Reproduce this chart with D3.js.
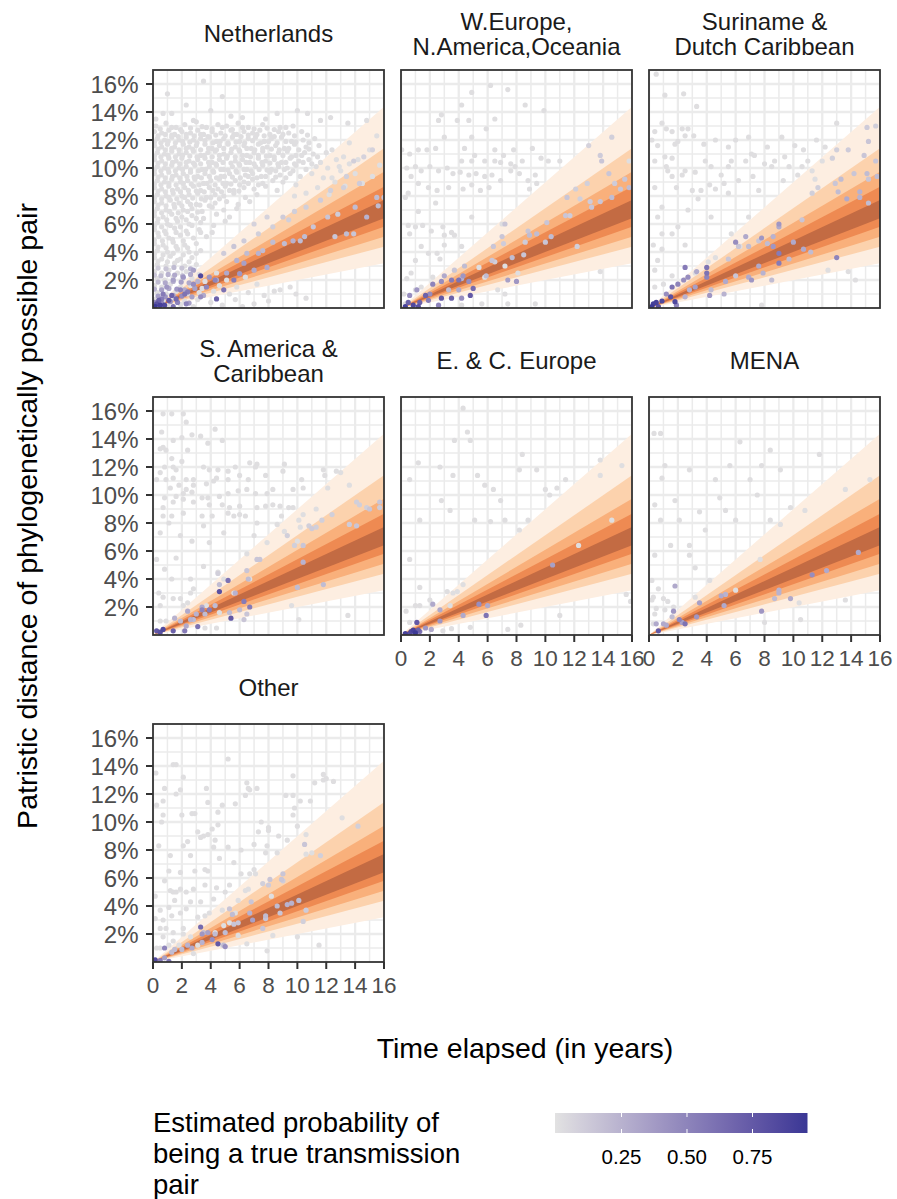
<!DOCTYPE html>
<html><head><meta charset="utf-8">
<script src="https://cdn.jsdelivr.net/npm/d3@7"></script>
<style>body{margin:0;background:#fff}svg{display:block}text{font-family:"Liberation Sans",Arial,Helvetica,sans-serif}</style>
</head><body><svg id="c" width="897" height="1199"></svg>
<script>
// ---------------- data ----------------
const panelTitles = [["Netherlands"],["W.Europe,","N.America,Oceania"],["Suriname &","Dutch Caribbean"],["S. America &","Caribbean"],["E. & C. Europe"],["MENA"],["Other"]];
const xTicks = [0,2,4,6,8,10,12,14,16];
const yTicks = [2,4,6,8,10,12,14,16];
const bandTimes = [0,16];
const bandLower = [3.19,4.38,5.09,5.81,6.41];   // % at t = 16
const bandUpper = [14.38,11.41,9.74,8.66,7.71];
const bandColors = ["#fdeee1","#fcd2ad","#f9b07b","#ee8a52","#c36b43"];
const legendBreaks = [0.25,0.5,0.75];
const probDomain = [0,0.96];
const grayP = 0.02;

const nlGray = [[3.5,16.2],[1.0,15.3],[4.8,15.1],[2.3,14.5],[0.7,13.9],[1.3,13.9],[4.0,14.1],[10.0,14.1],[10.7,13.9],[12.3,13.6],[13.5,13.2],[6.2,13.6],[7.8,13.5],[0.2,13.5],[2.8,13.4],[5.4,13.7],[8.6,13.9],[11.6,13.4],
[0.2,13.0],[0.9,13.2],[1.6,12.9],[2.2,13.1],[3.0,13.3],[3.7,12.9],[4.5,13.1],[5.1,13.0],[5.9,13.2],[6.6,12.9],[7.6,13.1],[8.8,12.9],[9.7,13.0],
[0.1,12.6],[0.6,12.5],[1.1,12.7],[1.5,12.4],[2.0,12.6],[2.6,12.5],[3.1,12.7],[3.5,12.4],[4.1,12.6],[4.7,12.5],[5.4,12.7],[5.8,12.4],[6.3,12.6],[6.9,12.5],[7.4,12.7],[8.1,12.4],[8.7,12.6],[9.4,12.5],[10.3,12.6],
[0.3,12.1],[0.8,12.0],[1.3,12.2],[1.8,12.0],[2.3,12.2],[2.8,12.0],[3.3,12.1],[3.9,12.2],[4.4,11.9],[4.9,12.1],[5.5,12.2],[6.0,11.9],[6.6,12.1],[7.1,12.2],[7.7,11.9],[8.2,12.1],[8.9,12.2],[9.6,11.9],[10.4,12.0],[11.2,12.1],
[0.1,11.6],[0.6,11.5],[1.0,11.7],[1.5,11.5],[2.1,11.7],[2.5,11.5],[3.0,11.6],[3.6,11.7],[4.1,11.4],[4.6,11.6],[5.2,11.7],[5.7,11.5],[6.3,11.6],[6.8,11.4],[7.3,11.7],[7.9,11.5],[8.5,11.6],[9.1,11.4],[9.8,11.7],[10.6,11.5],[11.5,11.6],[12.4,11.3],
[0.3,11.1],[0.8,11.0],[1.3,11.2],[1.8,11.0],[2.3,11.1],[2.8,11.2],[3.3,10.9],[3.8,11.1],[4.3,11.2],[4.9,11.0],[5.4,11.1],[6.0,11.2],[6.5,10.9],[7.0,11.1],[7.6,11.2],[8.1,10.9],[8.7,11.1],[9.3,11.2],[9.9,10.9],[10.5,11.1],[11.1,11.0],[12.0,11.1],[13.2,10.8],
[0.1,10.6],[0.6,10.5],[1.1,10.7],[1.6,10.5],[2.0,10.7],[2.5,10.5],[3.1,10.6],[3.6,10.7],[4.1,10.4],[4.6,10.6],[5.1,10.7],[5.7,10.5],[6.2,10.6],[6.7,10.4],[7.3,10.7],[7.8,10.5],[8.4,10.6],[8.9,10.4],[9.5,10.7],[10.1,10.5],[10.8,10.6],[11.6,10.4],[12.7,10.6],[13.6,10.3],
[0.3,10.1],[0.8,10.0],[1.3,10.2],[1.8,10.0],[2.3,10.1],[2.9,10.2],[3.4,9.9],[3.9,10.1],[4.4,10.2],[4.9,9.9],[5.5,10.1],[6.0,10.2],[6.5,9.9],[7.1,10.1],[7.6,10.2],[8.2,9.9],[8.7,10.1],[9.3,10.0],[9.9,10.2],[10.6,9.9],[11.3,10.1],[12.1,10.0],[13.0,9.8],
[0.1,9.6],[0.6,9.5],[1.1,9.7],[1.6,9.5],[2.1,9.6],[2.6,9.7],[3.1,9.4],[3.6,9.6],[4.2,9.7],[4.7,9.4],[5.3,9.6],[5.8,9.7],[6.4,9.5],[6.9,9.6],[7.5,9.4],[8.1,9.7],[8.8,9.5],[9.5,9.6],[10.2,9.4],[11.0,9.6],[12.4,9.3],
[0.3,9.1],[0.8,9.0],[1.3,9.2],[1.9,9.0],[2.4,9.1],[2.9,9.2],[3.5,8.9],[4.0,9.1],[4.6,9.2],[5.1,8.9],[5.7,9.1],[6.3,9.0],[6.9,9.2],[7.6,8.9],[8.3,9.1],[9.0,9.0],[9.9,8.8],
[0.1,8.6],[0.6,8.5],[1.1,8.7],[1.7,8.5],[2.2,8.6],[2.8,8.7],[3.3,8.4],[3.9,8.6],[4.5,8.5],[5.0,8.7],[5.6,8.4],[6.3,8.6],[7.0,8.5],[7.8,8.7],[8.6,8.4],
[0.3,8.1],[0.9,8.0],[1.4,8.2],[2.0,8.0],[2.5,8.1],[3.1,8.2],[3.7,7.9],[4.3,8.1],[4.9,8.0],[5.6,8.2],[6.4,7.9],[7.2,8.1],
[0.1,7.6],[0.6,7.5],[1.2,7.7],[1.8,7.5],[2.4,7.6],[3.0,7.4],[3.6,7.7],[4.3,7.5],[5.1,7.6],[5.9,7.4],[6.7,7.6],
[0.3,7.1],[0.9,7.0],[1.5,7.2],[2.1,7.0],[2.7,7.1],[3.4,6.9],[4.1,7.2],[4.9,7.0],[5.8,7.1],
[0.1,6.6],[0.7,6.5],[1.3,6.7],[2.0,6.5],[2.7,6.6],[3.5,6.4],[4.4,6.7],[5.3,6.5],
[0.3,6.1],[1.0,6.0],[1.7,6.2],[2.5,6.0],[3.3,6.1],[4.2,5.9],[5.0,6.2],
[0.1,5.6],[0.8,5.5],[1.5,5.7],[2.3,5.5],[3.2,5.6],[4.1,5.4],
[0.4,5.1],[1.1,5.0],[1.9,5.2],[2.8,5.0],[3.7,5.1],
[0.1,4.6],[0.7,4.5],[1.4,4.7],[2.2,4.5],[3.0,4.6],
[0.3,4.1],[1.0,4.0],[1.7,4.2],[2.5,4.0],[3.3,4.1],
[0.1,3.6],[0.6,3.5],[1.2,3.7],[1.9,3.5],[2.7,3.6],
[0.3,3.1],[0.9,3.0],[1.5,3.2],[2.2,3.0],[3.0,3.1],
[0.1,2.6],[0.6,2.5],[1.1,2.7],[1.7,2.5],[2.3,2.6],[3.2,2.4],[4.4,2.5],
[0.3,2.1],[0.8,2.0],[1.4,2.2],[2.0,2.0],[2.7,2.1],[3.6,1.9],[5.1,2.0],[6.4,2.2],
[0.1,1.6],[0.6,1.5],[1.2,1.7],[1.9,1.5],[2.6,1.6],[3.4,1.4],[4.6,1.6],[5.8,1.5],[7.2,1.7],[8.8,1.3],[9.5,1.5],
[0.3,1.1],[0.9,1.0],[1.6,1.2],[2.4,1.0],[3.2,1.1],[4.2,1.2],[5.3,1.0],[6.6,1.1],[7.7,0.9],[8.4,1.2],[9.9,1.0],[10.6,0.7],
[0.1,0.6],[0.7,0.5],[1.4,0.7],[2.2,0.5],[3.1,0.6],[4.0,0.4],[5.7,0.6],[7.0,0.3],[8.0,0.5],
[0.4,0.2],[1.0,0.15],[1.9,0.25],[2.8,0.1],[4.8,0.2],[6.2,0.1],
[11.8,9.3],[12.6,9.0],[13.3,8.7],[14.0,9.6],[14.5,8.9],[15.2,9.4],[15.7,10.2],[12.9,10.1],[14.2,10.6],[15.0,11.3],[13.6,11.8],[11.4,8.6],[10.6,8.2],[9.8,8.0],[15.5,12.3],[14.8,13.4],[12.2,8.1]];
// second, interleaved set of the dense Netherlands cloud
const nlGray2 = [[0.5,12.8],[1.3,12.9],[1.9,12.75],[2.6,12.85],[3.4,12.95],[4.1,12.8],[4.8,12.9],[5.5,12.75],[6.2,12.9],[7.0,12.8],[7.9,12.85],[8.4,12.75],[9.2,12.9],
[0.35,12.3],[0.85,12.4],[1.3,12.35],[1.75,12.25],[2.3,12.4],[2.85,12.3],[3.3,12.4],[3.8,12.25],[4.35,12.35],[5.0,12.3],[5.6,12.4],[6.1,12.25],[6.6,12.35],[7.2,12.4],[7.7,12.3],[8.4,12.25],[9.0,12.4],[9.8,12.3],[10.7,12.35],
[0.1,11.85],[0.55,11.8],[1.05,11.9],[1.55,11.8],[2.05,11.9],[2.55,11.85],[3.05,11.8],[3.6,11.95],[4.15,11.8],[4.65,11.9],[5.2,11.8],[5.75,11.85],[6.35,11.8],[6.9,11.95],[7.45,11.8],[8.0,11.9],[8.6,11.8],[9.2,11.9],[9.9,11.85],[10.8,11.8],
[0.35,11.35],[0.85,11.3],[1.3,11.4],[1.8,11.3],[2.3,11.4],[2.75,11.35],[3.3,11.3],[3.85,11.4],[4.4,11.3],[4.9,11.4],[5.45,11.35],[5.95,11.3],[6.5,11.4],[7.05,11.3],[7.6,11.4],[8.2,11.35],[8.75,11.3],[9.4,11.4],[10.1,11.3],[10.8,11.35],
[0.1,10.85],[0.55,10.8],[1.05,10.9],[1.55,10.8],[2.05,10.9],[2.55,10.85],[3.05,10.8],[3.55,10.9],[4.1,10.8],[4.6,10.9],[5.15,10.85],[5.7,10.8],[6.2,10.9],[6.75,10.8],[7.3,10.9],[7.85,10.85],[8.4,10.8],[9.0,10.9],[9.6,10.8],[10.3,10.9],[11.4,10.8],
[0.35,10.35],[0.85,10.3],[1.35,10.4],[1.85,10.3],[2.3,10.4],[2.8,10.35],[3.3,10.3],[3.85,10.4],[4.35,10.3],[4.85,10.4],[5.4,10.35],[5.95,10.3],[6.45,10.4],[7.0,10.3],[7.55,10.4],[8.1,10.35],[8.65,10.3],[9.2,10.4],[9.8,10.3],[10.4,10.4],[11.0,10.3],
[0.1,9.85],[0.55,9.8],[1.05,9.9],[1.55,9.8],[2.05,9.9],[2.6,9.85],[3.15,9.8],[3.65,9.9],[4.15,9.8],[4.7,9.9],[5.2,9.85],[5.75,9.8],[6.3,9.9],[6.8,9.8],[7.35,9.9],[7.9,9.85],[8.5,9.8],[9.1,9.9],[9.7,9.8],
[0.35,9.35],[0.85,9.3],[1.35,9.4],[1.85,9.3],[2.35,9.4],[2.85,9.35],[3.35,9.3],[3.9,9.4],[4.4,9.3],[4.95,9.4],[5.5,9.35],[6.05,9.3],[6.6,9.4],[7.2,9.3],[7.8,9.4],[8.5,9.35],[9.2,9.3],
[0.1,8.85],[0.55,8.8],[1.1,8.9],[1.6,8.8],[2.1,8.9],[2.65,8.85],[3.2,8.8],[3.75,8.9],[4.3,8.8],[4.85,8.9],[5.4,8.85],[6.0,8.8],[6.6,8.9],[7.3,8.8],
[0.35,8.35],[0.85,8.3],[1.35,8.4],[1.9,8.3],[2.45,8.4],[3.0,8.35],[3.55,8.3],[4.15,8.4],[4.75,8.3],[5.3,8.4],[5.95,8.35],
[0.1,7.85],[0.6,7.8],[1.1,7.9],[1.65,7.8],[2.2,7.9],[2.75,7.85],[3.35,7.8],[4.0,7.9],[4.6,7.8],
[0.35,7.35],[0.9,7.3],[1.45,7.4],[2.0,7.3],[2.6,7.4],[3.25,7.35],[3.9,7.3],
[0.1,6.85],[0.6,6.8],[1.15,6.9],[1.75,6.8],[2.4,6.9],[3.1,6.85],
[0.35,6.35],[0.95,6.3],[1.6,6.4],[2.3,6.3],[3.0,6.4],
[0.1,5.85],[0.6,5.8],[1.2,5.9],[1.9,5.8],[2.7,5.9],
[0.35,5.35],[0.9,5.3],[1.6,5.4],[2.4,5.3],[3.3,5.4],
[0.1,4.85],[0.65,4.8],[1.35,4.9],[2.1,4.8],
[0.35,4.35],[0.9,4.3],[1.6,4.4],[2.4,4.3],
[0.1,3.85],[0.7,3.8],[1.4,3.9],[2.1,3.8],[3.0,3.9],
[0.35,3.35],[1.0,3.3],[1.7,3.4],[2.5,3.3]];
const nlCol = [[11.1,5.8,0.15],[10.5,5.1,0.2],[10.2,4.8,0.2],[12.6,5.1,0.15],[13.4,5.3,0.2],[13.9,5.3,0.15],[12.1,6.5,0.15],[12.8,6.7,0.12],[14.0,7.2,0.2],[14.8,6.5,0.25],[15.5,7.9,0.2],[16.0,7.9,0.15],[15.6,7.3,0.2],[9.7,4.8,0.25],[9.1,4.6,0.2],[8.3,4.7,0.2],[7.6,4.1,0.2],[7.3,3.9,0.25],[6.5,3.9,0.2],[5.8,3.4,0.25],[5.1,2.5,0.3],[4.4,2.0,0.3],
[15.2,11.3,0.08],[14.6,10.8,0.08],[13.9,10.5,0.1],[13.4,9.4,0.1],[14.3,8.9,0.12],[13.2,8.6,0.1],[12.3,8.4,0.1],[11.6,7.7,0.12],[10.6,7.2,0.1],[9.8,6.9,0.1],[9.0,6.5,0.12],[8.3,5.8,0.1],[7.3,5.3,0.1],[6.3,4.8,0.12],[5.6,4.4,0.15],[4.9,3.9,0.12],[7.0,6.0,0.08],[7.9,6.5,0.08],[9.4,6.3,0.1],
[0.35,2.85,0.12],[0.9,2.8,0.15],[1.45,2.9,0.2],[2.0,2.85,0.15],[2.6,2.8,0.25],[0.1,2.35,0.15],[0.55,2.3,0.2],[1.05,2.4,0.25],[1.5,2.35,0.3],[2.05,2.3,0.2],[2.6,2.4,0.3],[0.35,1.85,0.2],[0.85,1.8,0.3],[1.4,1.9,0.25],[1.95,1.85,0.35],[2.5,1.8,0.3],[3.1,1.9,0.25],[0.1,1.35,0.25],[0.6,1.3,0.35],[1.1,1.4,0.3],[1.65,1.35,0.4],[2.2,1.3,0.3],[2.9,1.4,0.35],[0.35,0.85,0.35],[0.85,0.8,0.4],[1.4,0.9,0.3],[2.0,0.85,0.45],[2.7,0.8,0.35],[3.5,0.9,0.3],[0.1,0.4,0.45],[0.6,0.35,0.5],[1.2,0.45,0.4],[1.7,0.4,0.5],[2.5,0.35,0.35],
[0.5,0.2,0.9],[0.8,0.2,0.85],[1.1,0.55,0.75],[1.3,0.9,0.7],[1.6,0.65,0.65],[2.2,1.0,0.6],[2.4,1.15,0.55],[3.3,2.3,0.85],[4.3,2.0,0.5],[4.9,1.3,0.6],[5.6,2.0,0.55],[4.4,0.65,0.7],[0.4,0.55,0.7],[0.7,1.0,0.55],[1.9,1.3,0.5],[2.8,1.7,0.45],[3.7,1.5,0.5],[3.3,0.8,0.45],[1.4,0.1,0.6],[0.15,0.1,0.95],[0.25,0.3,0.8],[0.6,0.65,0.55],[2.3,0.3,0.5],[6.0,2.45,0.4],[7.0,2.7,0.3],[7.9,2.9,0.3],[6.3,3.2,0.35],[3.9,2.2,0.4],[2.8,2.7,0.35],[2.1,2.2,0.4],[1.4,2.0,0.35],[0.95,1.5,0.4]];

const weGray = [[4.9,15.4],[7.4,15.6],[6.2,15.9],[4.2,14.5],[8.6,14.5],[9.9,14.1],[2.8,13.8],[2.6,13.4],[3.9,13.4],[4.7,13.4],[3.0,12.2],[5.9,12.8],[6.5,13.5],[4.9,12.2],[0.05,11.3],[0.6,11.0],[1.2,11.3],[1.8,11.3],[2.4,11.4],[4.4,11.4],[5.1,10.9],[6.5,11.3],[7.1,10.9],[7.8,11.3],[9.1,11.4],[5.8,10.5],[6.5,10.5],[6.9,10.4],[7.6,10.3],[7.9,10.1],[8.4,10.5],[9.7,10.7],[10.2,10.5],[11.0,10.5],[4.2,10.5],[4.9,10.5],[0.4,10.0],[1.0,10.1],[1.4,9.8],[2.0,10.1],[2.6,9.8],[3.2,10.0],[3.6,9.6],[4.1,9.7],[4.7,9.5],[5.2,9.6],[5.8,9.4],[6.3,9.5],[6.9,9.1],[7.6,9.8],[8.2,9.6],[8.8,9.1],[9.3,9.5],[0.7,9.4],[1.2,8.9],[0.5,8.2],[0.3,7.9],[1.9,8.6],[2.5,8.4],[3.3,8.6],[4.3,8.5],[4.9,8.8],[5.5,8.4],[6.1,8.6],[8.9,8.5],[9.4,8.9],[2.4,7.5],[1.2,6.9],[1.0,5.8],[1.5,5.9],[2.1,5.5],[2.9,5.8],[3.5,5.4],[3.7,5.2],[3.0,5.2],[0.5,5.9],[0.6,5.3],[4.9,6.5],[7.0,6.0],[4.2,4.4],[3.0,4.5],[1.4,4.4],[1.9,3.9],[2.5,3.9],[1.0,3.4],[0.4,2.1],[0.7,2.5],[1.0,1.3],[1.4,1.5],[2.2,2.2],[2.7,3.5],[7.2,3.0],[8.1,2.5],[7.2,1.0],[7.4,0.3],[9.3,0.3],[13.8,2.6],[15.8,10.5],[4.2,0.2],[5.6,0.3],[6.7,1.3],[0.3,0.3],[0.2,1.0],[5.4,2.9],[5.8,2.2]];
const weCol = [[14.6,12.2,0.1],[13.8,10.9,0.12],[13.0,11.6,0.08],[13.9,10.5,0.15],[14.4,9.6,0.15],[15.5,9.2,0.15],[15.8,8.6,0.2],[15.2,8.5,0.15],[14.8,8.9,0.12],[12.9,8.9,0.1],[12.1,8.5,0.1],[11.5,7.9,0.15],[12.4,7.8,0.1],[13.1,7.6,0.12],[13.8,7.6,0.15],[13.2,7.2,0.15],[14.6,7.9,0.2],[11.4,6.6,0.15],[11.7,6.6,0.12],[10.1,6.1,0.15],[10.4,5.1,0.2],[10.0,4.7,0.15],[9.4,5.3,0.2],[8.8,5.5,0.15],[8.9,5.2,0.2],[8.6,4.7,0.12],[7.2,6.0,0.15],[7.0,5.1,0.15],[7.1,4.6,0.12],[6.4,4.4,0.15],[6.3,3.4,0.15],[6.5,3.3,0.1],[7.7,3.6,0.2],[8.5,3.8,0.15],[12.2,4.4,0.1],[7.4,2.0,0.35],[8.0,1.9,0.4],[5.9,2.3,0.2],[4.4,3.0,0.2],[3.7,2.7,0.15],[3.0,2.3,0.3],[4.0,1.3,0.3],[4.2,2.1,0.25],[3.3,1.3,0.2],
[0.5,0.4,0.7],[0.85,0.2,0.85],[1.3,0.4,0.7],[1.7,0.9,0.7],[2.2,1.7,0.5],[2.8,1.9,0.45],[3.5,2.0,0.55],[4.0,2.0,0.6],[4.7,1.9,0.45],[5.0,1.4,0.65],[4.8,0.9,0.75],[4.2,0.7,0.45],[3.5,0.7,0.7],[2.8,0.7,0.75],[2.0,1.0,0.45],[2.6,0.2,0.5],[0.6,0.9,0.45],[1.1,1.3,0.4],[0.3,0.1,0.9],[1.2,0.1,0.8],[1.9,0.55,0.55],[4.3,2.3,0.4]];

const suGray = [[0.5,16.7],[1.1,15.2],[2.4,15.3],[3.3,14.4],[0.9,13.2],[1.2,12.8],[1.6,12.6],[0.4,12.6],[2.3,12.8],[2.7,12.8],[3.1,12.3],[2.0,11.9],[2.5,12.3],[4.6,12.0],[6.0,12.0],[6.9,12.2],[7.1,11.0],[7.3,10.9],[9.2,12.2],[9.4,10.8],[10.1,11.6],[10.7,11.3],[11.0,10.5],[11.6,12.0],[12.2,11.5],[13.0,13.2],[12.0,10.5],[5.7,10.5],[5.5,10.1],[5.0,9.5],[5.2,8.9],[6.2,9.1],[7.2,9.4],[8.7,10.5],[8.5,10.1],[8.0,10.3],[9.3,9.1],[11.3,9.8],[11.5,9.2],[10.3,9.5],[1.3,9.8],[1.6,9.4],[2.3,9.5],[3.2,9.7],[3.6,8.4],[3.0,8.4],[3.4,7.8],[4.2,8.8],[4.6,8.5],[5.5,8.2],[0.4,10.5],[1.1,10.8],[1.6,10.7],[2.5,9.8],[1.9,8.6],[0.9,7.2],[0.6,6.5],[0.3,4.5],[0.9,4.2],[0.6,3.4],[0.4,2.7],[1.0,1.7],[0.4,1.5],[1.6,2.3],[1.6,5.3],[2.0,5.8],[0.9,5.3],[2.5,4.5],[3.2,2.5],[4.1,3.3],[4.6,3.6],[5.7,5.3],[6.3,4.4],[12.4,2.7],[13.8,2.6],[14.3,2.0],[7.8,0.2],[1.8,11.7],[3.8,11.7],[5.5,11.5],[8.2,11.5],[0.2,12.0],[0.6,11.6],[1.2,10.1],[3.9,10.5],[4.3,10.1],[6.7,10.5],[9.7,10.1],[10.6,10.1],[2.7,7.0],[4.3,6.5],[6.9,6.5],[0.4,8.6],[7.6,8.4]];
const suCol = [[13.0,11.3,0.1],[12.7,10.7,0.1],[13.8,11.3,0.12],[14.9,10.9,0.15],[15.1,12.9,0.12],[15.7,13.0,0.1],[15.2,11.9,0.15],[15.7,10.5,0.15],[14.2,9.6,0.15],[15.1,9.6,0.2],[15.2,9.2,0.15],[15.8,9.4,0.2],[13.3,9.2,0.2],[12.9,8.9,0.15],[11.7,8.6,0.1],[11.3,8.2,0.1],[13.1,8.3,0.2],[14.6,8.3,0.25],[13.7,7.8,0.3],[14.6,7.9,0.25],[15.2,7.5,0.2],[10.6,6.3,0.15],[9.0,5.8,0.3],[8.6,5.1,0.25],[8.2,4.6,0.2],[7.6,4.8,0.15],[6.9,4.4,0.2],[7.6,3.0,0.3],[6.2,4.4,0.15],[5.5,3.5,0.15],[10.0,4.7,0.3],[10.7,4.2,0.3],[11.2,4.0,0.2],[9.7,3.5,0.2],[9.0,3.2,0.55],[13.0,3.6,0.5],[7.9,2.5,0.25],[8.5,2.0,0.2],[7.1,2.0,0.4],[6.9,2.2,0.3],[6.0,2.3,0.15],[5.3,1.9,0.3],[5.2,1.0,0.25],[4.3,1.3,0.2],[4.0,2.2,0.5],[4.0,2.9,0.6],[3.3,2.6,0.3],[2.8,1.3,0.25],[4.2,0.9,0.4],[2.5,0.8,0.25],[6.0,4.7,0.45],[6.7,5.1,0.3],[7.8,5.0,0.4],[8.6,4.4,0.4],[9.0,6.0,0.4],[9.0,3.9,0.55],
[0.3,0.3,0.9],[0.5,0.4,0.9],[0.9,0.5,0.85],[1.5,0.8,0.8],[1.8,0.45,0.85],[1.6,1.5,0.6],[2.0,1.7,0.5],[2.4,2.0,0.45],[2.7,2.2,0.45],[2.5,2.9,0.55],[1.2,1.0,0.45],[0.65,0.1,0.8],[0.2,0.1,0.95],[4.0,2.5,0.6],[3.2,1.5,0.35],[1.9,0.2,0.5]];

const saGray = [[0.7,15.8],[1.3,15.8],[2.1,15.8],[2.3,15.2],[0.6,14.5],[1.4,13.9],[2.0,14.1],[2.7,14.3],[3.3,14.2],[4.3,14.7],[4.8,13.9],[3.8,13.7],[0.7,13.4],[0.9,13.2],[0.5,13.3],[2.4,13.2],[1.3,12.6],[2.0,12.4],[1.4,12.0],[1.6,11.8],[0.8,12.0],[0.5,11.6],[0.25,11.1],[0.9,11.1],[1.4,11.2],[2.3,11.1],[2.8,11.1],[3.5,12.0],[3.9,11.8],[4.5,11.8],[5.2,11.7],[5.7,12.0],[6.7,12.3],[7.2,12.2],[7.1,12.0],[7.8,11.4],[6.6,11.1],[6.0,11.4],[5.2,11.1],[4.4,11.2],[4.2,11.0],[3.7,10.8],[2.8,10.7],[2.3,10.4],[1.8,10.7],[1.2,10.5],[0.8,9.8],[1.6,9.9],[2.1,10.1],[2.7,10.2],[3.4,9.8],[3.8,9.8],[4.6,9.9],[5.2,10.1],[5.9,10.3],[6.5,10.4],[7.1,10.1],[7.9,10.1],[8.3,10.4],[9.1,12.2],[9.0,11.7],[10.3,11.1],[10.4,10.5],[9.7,10.4],[11.8,11.8],[12.7,11.7],[13.0,11.6],[11.9,11.4],[12.1,10.5],[13.6,10.7],[11.3,9.0],[10.4,8.6],[9.7,9.1],[9.4,9.1],[8.8,9.2],[8.3,9.3],[7.8,9.2],[7.2,9.1],[6.0,9.2],[5.3,9.1],[4.8,9.3],[3.9,9.3],[2.8,9.5],[2.1,9.7],[1.4,9.5],[0.7,9.1],[0.7,8.5],[1.3,8.5],[2.1,8.7],[3.4,8.5],[4.1,8.5],[5.2,8.7],[5.6,8.5],[3.5,7.8],[6.0,8.6],[6.4,8.5],[8.9,8.5],[8.6,7.9],[9.1,7.4],[10.2,7.7],[10.0,6.7],[10.1,8.2],[2.7,6.7],[3.9,6.6],[4.5,4.5],[4.9,4.0],[3.5,4.9],[1.6,5.5],[0.8,4.7],[1.3,4.0],[2.6,4.0],[2.8,3.3],[0.4,3.0],[0.7,2.7],[1.4,2.6],[1.9,2.6],[2.4,2.3],[0.5,2.1],[2.1,2.1],[3.7,2.1],[2.6,3.0],[0.9,1.0],[0.5,1.0],[3.6,0.5],[4.4,0.5],[10.1,1.1],[9.6,2.1],[13.5,1.4],[6.5,5.8],[6.7,4.0],[5.6,3.0],[4.6,1.6],[0.25,5.4],[0.5,7.3],[1.1,8.0],[1.9,7.1],[4.9,7.3],[7.0,7.1],[7.9,6.6],[7.2,8.0]];
const saCol = [[14.3,9.3,0.1],[14.8,9.1,0.1],[15.7,9.5,0.15],[15.7,9.1,0.12],[15.0,9.0,0.15],[14.1,9.5,0.1],[13.6,7.9,0.12],[14.1,7.8,0.15],[12.4,8.6,0.1],[11.7,8.2,0.1],[11.3,7.7,0.1],[11.0,7.6,0.12],[10.8,7.8,0.1],[10.4,6.4,0.15],[9.8,6.4,0.1],[10.4,5.2,0.25],[10.0,3.4,0.2],[11.8,3.6,0.2],[9.3,7.1,0.1],[7.2,5.4,0.15],[7.4,5.4,0.15],[6.6,4.0,0.2],[5.7,3.0,0.25],[4.6,3.6,0.2],[4.3,2.1,0.2],[3.4,2.0,0.3],[3.6,1.5,0.2],[3.0,1.5,0.25],[2.4,1.7,0.3],[2.6,1.1,0.25],[1.9,1.0,0.2],[1.5,1.2,0.25],[2.3,0.65,0.3],[2.8,1.1,0.2],[5.3,1.6,0.2],[6.5,1.5,0.15],[6.0,1.8,0.2],[6.3,1.1,0.15],[4.5,4.4,0.1],[6.5,4.6,0.15],
[5.2,3.9,0.6],[4.6,3.1,0.8],[6.3,2.4,0.55],[6.7,2.0,0.55],[5.4,1.2,0.75],[3.9,1.8,0.55],[3.4,1.8,0.5],[3.1,0.6,0.6],[0.7,0.4,0.85],[1.4,0.3,0.7],[2.2,0.3,0.55],[0.25,0.3,0.75],[0.5,0.2,0.8]];

const ecGray = [[4.3,16.2],[4.6,14.5],[3.7,13.9],[1.2,12.3],[2.7,12.0],[3.6,11.4],[5.3,11.4],[5.8,10.7],[6.4,10.4],[10.0,10.4],[10.3,10.0],[10.8,10.5],[11.4,11.1],[8.4,12.9],[8.2,11.8],[0.6,11.1],[5.1,8.2],[6.2,8.1],[7.2,8.2],[8.2,7.5],[8.8,8.2],[13.8,12.5],[13.8,11.4],[15.3,12.1],[14.6,8.2],[3.4,8.9],[1.3,8.2],[9.4,11.8],[4.8,13.9],[2.8,9.6],[6.9,9.6],[12.3,6.4],[0.6,5.4],[2.0,2.5],[3.4,2.1],[11.0,1.4],[8.3,0.7],[15.9,2.4],
[1.3,3.4],[3.2,3.1],[3.6,3.0],[3.9,3.1],[4.3,3.6],[1.0,2.1],[1.3,2.1],[0.35,1.7],[0.6,0.9],[2.9,0.3],[3.5,0.45],[4.8,0.55],[7.4,0.4],[15.6,2.9]];
const ecCol = [[10.5,5.0,0.35],[2.2,2.2,0.3],[5.4,2.2,0.45],[6.0,2.1,0.3],[5.9,1.4,0.6],[4.3,1.4,0.3],[2.7,1.0,0.4],[2.7,1.8,0.3],[1.7,0.5,0.4],[2.1,0.4,0.3],[1.1,0.9,0.75],[0.85,0.35,0.9],[0.7,0.25,0.85],[1.2,0.35,0.7],[1.3,0.25,0.6],[1.0,0.15,0.95],[0.6,0.1,0.8],[0.3,0.1,0.9]];

const meGray = [[0.35,14.4],[0.8,14.4],[1.1,12.1],[0.9,11.2],[3.5,8.8],[5.3,8.9],[7.0,11.1],[7.5,10.0],[7.8,12.1],[6.3,13.8],[4.6,11.1],[4.9,9.8],[6.0,8.2],[8.4,8.2],[9.1,7.9],[2.8,6.4],[2.8,5.7],[3.2,4.8],[0.4,5.7],[0.2,3.9],[1.1,1.8],[0.2,2.5],[4.2,3.9],[6.0,3.2],[9.8,9.1],[10.8,8.9],[1.8,9.6],[2.8,11.8],[5.6,12.1],[9.1,11.8],[11.8,12.9],[13.6,10.4],[15.3,11.1],[8.4,13.2],[3.9,7.5],[2.1,8.2],[0.8,8.2],[0.4,9.3],[1.5,6.4],[7.7,5.4],[10.5,1.1],[13.6,2.5],
[0.65,3.3],[0.3,2.7],[1.0,2.6],[1.3,2.4],[1.7,2.0],[0.5,1.9],[0.4,1.5],[0.3,0.8],[3.2,2.7],[8.0,0.9],[10.4,2.3]];
const meCol = [[0.5,0.8,0.3],[1.0,0.8,0.3],[1.2,0.7,0.3],[1.7,1.7,0.4],[1.6,1.3,0.2],[2.1,1.1,0.5],[2.5,0.8,0.6],[2.3,0.9,0.35],[0.65,0.3,0.75],[1.8,3.5,0.3],[3.5,2.3,0.35],[3.3,1.3,0.4],[5.0,2.8,0.3],[5.3,2.9,0.25],[5.2,2.1,0.3],[7.8,1.7,0.4],[9.0,3.2,0.25],[9.0,3.0,0.25],[11.3,4.3,0.45],[12.3,4.6,0.3],[14.5,5.9,0.3],[9.8,2.6,0.3],[8.7,2.6,0.2]];

const otGray = [[0.2,13.5],[1.4,14.1],[2.1,13.2],[3.7,12.4],[5.2,14.5],[0.8,12.4],[1.9,12.3],[1.6,12.0],[0.25,11.2],[0.7,11.5],[0.7,10.5],[0.6,10.0],[0.4,8.3],[2.0,10.5],[2.9,10.6],[2.7,10.6],[3.8,11.4],[4.5,10.7],[4.8,11.2],[5.7,11.3],[6.5,12.8],[6.6,12.4],[6.7,12.3],[7.2,12.4],[6.4,11.9],[9.7,13.3],[11.8,13.4],[11.8,13.0],[12.0,13.1],[12.5,12.9],[11.2,12.8],[9.2,11.9],[9.7,11.9],[9.8,11.0],[9.7,10.5],[13.1,10.3],[10.2,11.5],[10.9,11.5],[7.5,10.0],[8.0,9.6],[8.0,9.4],[7.3,9.3],[7.0,8.4],[7.9,8.3],[7.8,7.8],[9.3,8.7],[8.7,9.0],[8.6,7.8],[6.1,8.0],[5.2,8.2],[4.2,8.2],[3.8,9.1],[3.5,9.0],[3.1,9.3],[3.3,8.9],[2.4,8.6],[2.1,8.3],[4.3,8.7],[4.5,9.8],[4.1,9.5],[3.8,6.5],[3.6,6.6],[2.9,6.5],[1.9,6.4],[1.1,6.5],[1.4,5.0],[1.2,5.1],[1.6,5.0],[1.9,5.2],[2.3,5.0],[2.8,5.2],[3.6,5.5],[4.4,5.3],[5.0,5.0],[4.2,4.5],[3.3,4.3],[2.6,4.3],[1.5,4.4],[1.1,3.9],[0.5,3.7],[0.7,3.0],[0.5,2.4],[0.9,2.4],[1.3,3.3],[1.9,3.5],[2.3,3.8],[3.1,3.2],[2.1,2.4],[1.4,2.1],[0.7,1.8],[1.4,1.5],[1.1,1.2],[1.8,1.2],[2.1,2.0],[2.6,1.8],[3.1,1.2],[2.8,0.6],[0.5,1.0],[0.25,1.0],[10.6,7.7],[11.0,7.8],[10.0,9.7],[10.6,9.1],[6.7,6.3],[7.1,6.3],[6.1,6.3],[7.0,6.6],[6.6,5.2],[6.4,5.1],[8.2,4.7],[8.3,1.9],[7.9,0.8],[10.0,1.8],[11.5,1.2],[6.5,1.3],[5.9,1.9],[4.9,2.6],[5.3,2.8],[3.6,3.3],[3.9,3.5],[4.8,3.7],[5.3,5.5],[5.9,4.4],[5.7,3.5],[4.3,2.1],[4.8,1.2],[1.6,14.1],[1.2,7.6],[0.8,5.8],[0.15,4.7],[0.15,3.1],[2.6,7.6],[4.6,7.4],[5.6,7.1]];
const otCol = [[14.2,9.7,0.1],[11.6,7.6,0.1],[10.5,8.4,0.15],[9.0,6.3,0.15],[8.9,5.9,0.15],[9.0,5.8,0.12],[8.1,5.9,0.15],[7.6,5.6,0.1],[8.0,5.5,0.12],[6.8,4.3,0.15],[6.7,3.5,0.25],[7.8,3.3,0.2],[7.8,3.1,0.15],[7.6,2.4,0.15],[8.6,4.0,0.2],[8.8,3.5,0.15],[9.3,4.1,0.25],[9.6,4.2,0.25],[10.1,4.4,0.2],[10.6,3.7,0.12],[10.4,2.9,0.1],[5.3,3.8,0.15],[5.5,3.4,0.2],[5.6,2.7,0.15],[5.0,2.1,0.2],[4.9,1.2,0.2],[4.3,2.0,0.2],[3.5,2.1,0.2],[3.4,1.4,0.25],[2.7,1.0,0.3],[2.0,0.9,0.2],[2.4,1.2,0.25],[1.5,0.9,0.2],[1.3,0.7,0.2],[0.8,0.3,0.35],[5.9,2.8,0.15],
[3.3,2.5,0.65],[4.5,1.3,0.75],[4.1,1.6,0.45],[5.0,1.1,0.45],[6.9,3.0,0.35],[0.8,1.0,0.5],[0.15,0.15,0.85],[0.5,0.1,0.55],[1.1,0.05,0.6],[3.8,2.1,0.35],[3.4,2.0,0.4]];

const panelGray = [nlGray.concat(nlGray2), weGray, suGray, saGray, ecGray, meGray, otGray];
const panelCol = [nlCol, weCol, suCol, saCol, ecCol, meCol, otCol];

// ---------------- layout ----------------
const colX = [153, 401, 649], rowY = [70, 397, 724];
const PW = 231, PH = 238;
const pos = [[0,0],[0,1],[0,2],[1,0],[1,1],[1,2],[2,0]];
const hasXAxis = [false,false,false,false,true,true,true];

const svg = d3.select("#c");
const x = d3.scaleLinear().domain([0,16]).range([0,PW]);
const y = d3.scaleLinear().domain([0,17]).range([PH,0]);
const col = d3.scaleLinear().domain(probDomain).range(["#e2e2e2","#3a3795"]).interpolate(d3.interpolateLab).clamp(true);

const minorX = d3.range(1,16,2), minorY = d3.range(1,17,2);

panelTitles.forEach((title, i) => {
  const [r, c] = pos[i];
  const g = svg.append("g").attr("transform", `translate(${colX[c]},${rowY[r]})`);
  const clipId = "clip" + i;
  g.append("clipPath").attr("id", clipId).append("rect").attr("width", PW).attr("height", PH);
  const inner = g.append("g").attr("clip-path", `url(#${clipId})`);
  inner.append("rect").attr("width", PW).attr("height", PH).attr("fill", "#fff");
  // grid
  inner.selectAll(".mx").data(minorX).join("line").attr("x1", d=>x(d)).attr("x2", d=>x(d)).attr("y1",0).attr("y2",PH).attr("stroke","#ebebeb").attr("stroke-width",1.5);
  inner.selectAll(".my").data(minorY).join("line").attr("y1", d=>y(d)).attr("y2", d=>y(d)).attr("x1",0).attr("x2",PW).attr("stroke","#ebebeb").attr("stroke-width",1.5);
  inner.selectAll(".gx").data(xTicks).join("line").attr("x1", d=>x(d)).attr("x2", d=>x(d)).attr("y1",0).attr("y2",PH).attr("stroke","#ebebeb").attr("stroke-width",2.3);
  inner.selectAll(".gy").data(yTicks).join("line").attr("y1", d=>y(d)).attr("y2", d=>y(d)).attr("x1",0).attr("x2",PW).attr("stroke","#ebebeb").attr("stroke-width",2.3);
  // bands
  bandLower.forEach((lo, k) => {
    const pts = bandTimes.map(t => ({t, lo: t === 0 ? 0 : lo, hi: t === 0 ? 0 : bandUpper[k]}));
    inner.append("path").datum(pts)
      .attr("d", d3.area().x(d=>x(d.t)).y0(d=>y(d.lo)).y1(d=>y(d.hi)))
      .attr("fill", bandColors[k]);
  });
  // points
  const pts = panelGray[i].map(d => [d[0], d[1], grayP]).concat(panelCol[i]).sort((a,b)=>a[2]-b[2]);
  inner.selectAll("circle").data(pts).join("circle")
    .attr("cx", d=>x(d[0])).attr("cy", d=>y(d[1])).attr("r", 2.6)
    .attr("fill", d=>col(d[2]));
  // border
  g.append("rect").attr("width", PW).attr("height", PH).attr("fill","none").attr("stroke","#333").attr("stroke-width",1.8);
  // strip title (single text element, one tspan per line)
  const st = g.append("text").attr("text-anchor","middle").attr("font-size", 24).attr("fill","#1a1a1a");
  title.forEach((line, li) => {
    const base = title.length === 1 ? -28 : (li === 0 ? -40.5 : -15.5);
    st.append("tspan").attr("x", PW/2).attr("y", base).text(line);
  });
  // y axis
  if (c === 0) {
    const ya = g.append("g");
    ya.selectAll("line").data(yTicks).join("line").attr("x1",-7).attr("x2",0).attr("y1",d=>y(d)).attr("y2",d=>y(d)).attr("stroke","#333").attr("stroke-width",2);
    ya.selectAll("text").data(yTicks).join("text").attr("x",-14.5).attr("y",d=>y(d)+8.5).attr("text-anchor","end")
      .attr("font-size",24).attr("fill","#4d4d4d").text(d=>d+"%");
  }
  if (hasXAxis[i]) {
    const xa = g.append("g").attr("transform", `translate(0,${PH})`);
    xa.selectAll("line").data(xTicks).join("line").attr("x1",d=>x(d)).attr("x2",d=>x(d)).attr("y1",0).attr("y2",7).attr("stroke","#333").attr("stroke-width",2);
    xa.selectAll("text").data(xTicks).join("text").attr("x",d=>x(d)).attr("y",31).attr("text-anchor","middle")
      .attr("font-size",22.5).attr("fill","#4d4d4d").text(d=>d);
  }
});

// axis titles
svg.append("text").attr("x",525).attr("y",1058).attr("text-anchor","middle").attr("font-size",28.5).attr("fill","#000").text("Time elapsed (in years)");
svg.append("text").attr("transform","translate(36.5,516) rotate(-90)").attr("text-anchor","middle").attr("font-size",28.5).attr("fill","#000").text("Patristic distance of phylogenetically possible pair");

// legend
const legTitle = ["Estimated probability of","being a true transmission","pair"];
const lt = svg.append("text").attr("font-size",27.5).attr("fill","#000");
legTitle.forEach((l, i) => lt.append("tspan").attr("x",153).attr("y",1132 + i*30.8).text(l));
const lx = d3.scaleLinear().domain(probDomain).range([556, 807.5]);
const grad = svg.append("defs").append("linearGradient").attr("id","lg");
d3.range(0, 1.0001, 0.1).forEach(f => grad.append("stop").attr("offset", f).attr("stop-color", col(probDomain[0] + f*(probDomain[1]-probDomain[0]))));
svg.append("rect").attr("x",lx(0)-1).attr("y",1113).attr("width",lx(probDomain[1])-lx(0)+1).attr("height",20).attr("fill","url(#lg)");
legendBreaks.forEach(b => {
  svg.append("line").attr("x1",lx(b)).attr("x2",lx(b)).attr("y1",1113).attr("y2",1117).attr("stroke","#fff").attr("stroke-width",1);
  svg.append("line").attr("x1",lx(b)).attr("x2",lx(b)).attr("y1",1129).attr("y2",1133).attr("stroke","#fff").attr("stroke-width",1);
  svg.append("text").attr("x",lx(b)).attr("y",1164).attr("text-anchor","middle").attr("font-size",20.5).attr("fill","#000").text(b.toFixed(2));
});
</script></body></html>
